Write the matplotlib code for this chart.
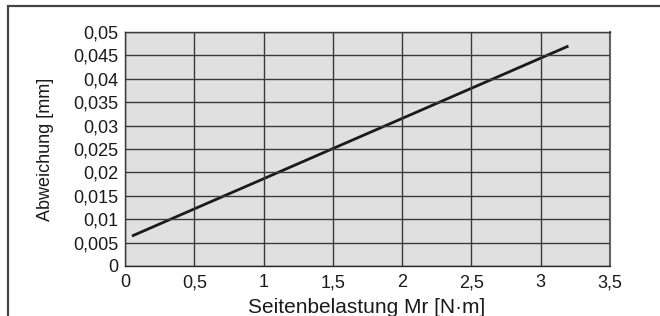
import matplotlib.pyplot as plt
from matplotlib.patches import Rectangle

plt.rcParams['font.family'] = ['Liberation Sans', 'DejaVu Sans']

# Data
load_nm = [0.05, 3.2]          # Seitenbelastung Mr [N·m]
deviation_mm = [0.0064, 0.047]  # Abweichung [mm]

x_ticks = [0, 0.5, 1, 1.5, 2, 2.5, 3, 3.5]
x_labels = ['0', '0,5', '1', '1,5', '2', '2,5', '3', '3,5']
y_ticks = [0, 0.005, 0.01, 0.015, 0.02, 0.025, 0.03, 0.035, 0.04, 0.045, 0.05]
y_labels = ['0', '0,005', '0,01', '0,015', '0,02', '0,025', '0,03',
            '0,035', '0,04', '0,045', '0,05']

W, H = 660, 316
fig = plt.figure(figsize=(W / 100, H / 100), dpi=100)
ax = fig.add_axes([125 / W, 1 - 266 / H, (610 - 125) / W, (266 - 32) / H])

# outer frame (top and left edges visible, rest cropped)
fig.add_artist(Rectangle((8 / W, -0.05), 1.2, 1 - 6 / H + 0.05,
                         transform=fig.transFigure, fill=False,
                         edgecolor='#444444', lw=1.6))

ax.set_facecolor('#e0e0e1')
ax.plot(load_nm, deviation_mm, color='#1a1a1a', lw=2, solid_capstyle='butt')

ax.set_xlim(0, 3.5)
ax.set_ylim(0, 0.05)
ax.set_xticks(x_ticks)
ax.set_xticklabels(x_labels)
ax.set_yticks(y_ticks)
ax.set_yticklabels(y_labels)
ax.tick_params(length=0, labelsize=13, colors='#1a1a1a')
ax.tick_params(axis='y', pad=5)
ax.tick_params(axis='x', pad=6)
ax.grid(True, color='#3a3a3a', lw=1)
ax.set_axisbelow(False)
for s in ax.spines.values():
    s.set_color('#2a2a2a')
    s.set_linewidth(1)
ax.spines['right'].set_color('#666666')
ax.spines['right'].set_linewidth(1.5)

fig.text(367 / W, 1 - 313 / H, 'Seitenbelastung Mr [N·m]', fontsize=15,
         color='#1a1a1a', ha='center', va='baseline')
fig.text(45 / W, 1 - 149 / H, 'Abweichung [mm]', fontsize=13, rotation=90,
         color='#1a1a1a', ha='center', va='center')

fig.savefig('out.png', dpi=100)
